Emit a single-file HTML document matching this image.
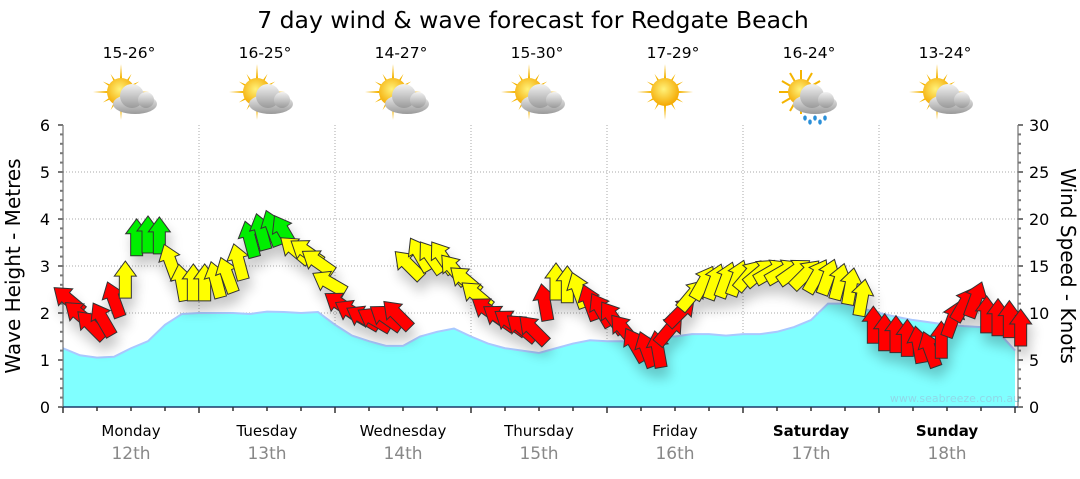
<!DOCTYPE html>
<html><head><meta charset="utf-8"><style>
body{margin:0;background:#fff;width:1080px;height:475px;overflow:hidden;font-family:"DejaVu Sans","Liberation Sans",sans-serif}
</style></head><body>
<svg id="c" width="1080" height="475" xmlns="http://www.w3.org/2000/svg" font-family="DejaVu Sans, Liberation Sans, sans-serif">
<defs>
<filter id="sh" x="-50%" y="-50%" width="200%" height="200%"><feGaussianBlur in="SourceAlpha" stdDeviation="6"/><feOffset dx="3" dy="10"/><feComponentTransfer><feFuncA type="linear" slope="0.22"/></feComponentTransfer><feMerge><feMergeNode/><feMergeNode in="SourceGraphic"/></feMerge></filter>
<radialGradient id="sunG" cx="45%" cy="40%" r="60%"><stop offset="0" stop-color="#fff27a"/><stop offset="1" stop-color="#f4a800"/></radialGradient>
<linearGradient id="cloudG" x1="0" y1="0" x2="0" y2="1"><stop offset="0" stop-color="#f2f2f2"/><stop offset="1" stop-color="#9a9a9a"/></linearGradient>
</defs>
<text x="533" y="28" text-anchor="middle" font-size="23.5" fill="#000">7 day wind &amp; wave forecast for Redgate Beach</text>
<g id="plot"></g>
</svg>
<script>
const days=["Monday","Tuesday","Wednesday","Thursday","Friday","Saturday","Sunday"];
const dates=["12th","13th","14th","15th","16th","17th","18th"];
const temps=["15-26°","16-25°","14-27°","15-30°","17-29°","16-24°","13-24°"];
const icons=["partly","partly","partly","partly","sun","rain","partly"];
const waveTicks=[0,1,2,3,4,5,6];
const windTicks=[0,5,10,15,20,25,30];
// wave height every 3 hours
const waveHeights=[1.25,1.1,1.05,1.07,1.25,1.4,1.75,1.98,2.0,2.0,2.0,1.98,2.03,2.02,2.0,2.02,1.75,1.52,1.4,1.3,1.3,1.5,1.6,1.67,1.5,1.35,1.25,1.2,1.15,1.25,1.35,1.42,1.4,1.4,1.45,1.5,1.5,1.55,1.55,1.52,1.55,1.55,1.6,1.7,1.85,2.2,2.2,2.1,2.0,1.92,1.85,1.8,1.75,1.72,1.7,1.6,1.2];
// wind speed (knots) every 2 hours
const windSpeeds=[11.4,9.8,8.7,9.3,11.4,13.5,18.0,18.3,18.2,15.4,13.2,13.2,
13.2,13.5,14.0,15.4,17.8,18.6,19.0,18.6,16.7,16.5,15.4,13.2,
10.9,10.1,9.5,9.3,9.5,9.8,15.1,16.2,15.9,15.9,14.6,13.5,
11.9,10.3,9.5,9.0,8.4,8.2,11.1,13.3,13.0,12.4,11.1,10.3,
9.5,8.2,6.6,6.1,6.1,8.2,10.1,11.9,13.2,13.3,13.5,13.7,
14.0,14.3,14.4,14.4,14.4,14.1,13.9,13.8,13.3,12.8,11.6,8.7,
7.9,7.7,7.3,6.6,6.1,7.1,9.3,10.9,11.4,9.8,9.5,9.3,8.4];
// wind direction the arrow points, degrees clockwise from up
const windDirs=[-50,-50,-45,-30,-20,0,0,0,0,-20,-10,0,
0,-15,-20,-15,-15,-15,-20,-30,-50,-55,-55,-60,
-55,-60,-60,-60,-55,-45,-45,-30,-35,-35,-40,-50,
-50,-55,-55,-55,-50,-45,-10,0,0,-20,-20,-30,
-35,-40,-30,-20,-10,40,45,40,30,20,20,20,
40,50,60,60,55,45,30,20,15,10,10,0,
0,0,0,-10,-20,0,20,30,20,0,0,0,0];

const NS="http://www.w3.org/2000/svg";
const P=document.getElementById('plot');
const X0=63,Y0=407,Y6=125,DW=136;
const yW=v=>Y0-(Y0-Y6)*v/6;
const yK=v=>Y0-(Y0-Y6)*v/30;
const xH=h=>X0+h*DW/24;
function el(t,a,p){const e=document.createElementNS(NS,t);for(const k in a)e.setAttribute(k,a[k]);(p||P).appendChild(e);return e;}

waveTicks.forEach(t=>{if(t>0&&t<6){const g=el('line',{x1:X0,x2:1018,y1:yW(t),y2:yW(t),stroke:'#aaa','stroke-dasharray':'1,2'});

}});
for(let d=1;d<7;d++){const g=el('line',{x1:xH(d*24),x2:xH(d*24),y1:Y6,y2:Y0,stroke:'#aaa','stroke-dasharray':'1,2'});

}

let pts=waveHeights.map((v,i)=>xH(i*3)+','+yW(v));
const area=el('polygon',{points:X0+','+Y0+' '+pts.join(' ')+' '+xH((waveHeights.length-1)*3)+','+Y0,fill:'#80ffff'});


const wl=el('polyline',{points:pts.join(' '),fill:'none',stroke:'#a9c8ff','stroke-width':2});


const wm=el('text',{x:955,y:402,'text-anchor':'middle','font-size':11,fill:'#8fd8e8'});wm.textContent='www.seabreeze.com.au';



const axL=el('line',{x1:X0,x2:X0,y1:Y6,y2:Y0,stroke:'#555'});


const axR=el('line',{x1:1018,x2:1018,y1:Y6,y2:Y0,stroke:'#555'});


const axB=el('line',{x1:X0,x2:1018,y1:Y0,y2:Y0,stroke:'#1a3a6a','stroke-width':1.5});


for(let i=0;i<=30;i++){const y=yW(i/5);el('line',{x1:X0-(i%5?3:5),x2:X0,y1:y,y2:y,stroke:'#777','stroke-width':2});}
for(let i=0;i<=30;i++){const y=yK(i);el('line',{x1:1018,x2:1018+(i%5?3:5),y1:y,y2:y,stroke:'#777','stroke-width':2});}
for(let h=0;h<=168;h+=6){const x=xH(h);el('line',{x1:x,x2:x,y1:Y0,y2:Y0+(h%24?4:6),stroke:'#333','stroke-width':1.5});}
waveTicks.forEach(t=>{const e=el('text',{x:50,y:yW(t)+6,'text-anchor':'end','font-size':16,fill:'#000'});e.textContent=t;

});
windTicks.forEach(t=>{const e=el('text',{x:1029,y:yK(t)+6,'font-size':16,fill:'#000'});e.textContent=t;

});
const lt=el('text',{transform:'translate(20,266) rotate(-90)','text-anchor':'middle','font-size':20,fill:'#000'});lt.textContent='Wave Height - Metres';


const rt=el('text',{transform:'translate(1061,266) rotate(90)','text-anchor':'middle','font-size':20,fill:'#000'});rt.textContent='Wind Speed - Knots';



function icon(g,type){
  if(type!=='rain'){
    const rays=el('g',{},g);
    for(let a=0;a<360;a+=30){const r=(a%90===0)?28:21;
      const ra=a*Math.PI/180;el('polygon',{points:`${Math.sin(ra-0.13)*10},${-Math.cos(ra-0.13)*10} ${Math.sin(ra)*r},${-Math.cos(ra)*r} ${Math.sin(ra+0.13)*10},${-Math.cos(ra+0.13)*10}`,fill:'#f4b400'},rays);}
    el('circle',{cx:0,cy:0,r:14,fill:'url(#sunG)'},g);
  } else {
    const rays=el('g',{},g);
    for(let a=0;a<360;a+=30){const ra=a*Math.PI/180;el('line',{x1:Math.sin(ra)*10,y1:-Math.cos(ra)*10,x2:Math.sin(ra)*22,y2:-Math.cos(ra)*22,stroke:'#f4b400','stroke-width':2},rays);}
    el('circle',{cx:0,cy:0,r:13,fill:'url(#sunG)'},g);
  }
  if(type!=='sun'){
    const cg=el('g',{transform:'translate(14,5)'},g);
    el('ellipse',{cx:0,cy:7,rx:22,ry:10,fill:'url(#cloudG)'},cg);
    el('circle',{cx:-3,cy:-1,r:12,fill:'url(#cloudG)'},cg);
    el('circle',{cx:11,cy:3,r:8,fill:'url(#cloudG)'},cg);
    if(type==='rain'){for(let k=0;k<5;k++)el('ellipse',{cx:-10+k*5,cy:21+(k%2)*4,rx:1.8,ry:2.6,fill:'#2a8fd8'},cg);}
  }
}
days.forEach((d,i)=>{
  const cx=xH(i*24+12);
  const bold=(i>=5)?'bold':'normal';
  const dn=el('text',{x:cx,y:436,'text-anchor':'middle','font-size':15,'font-weight':bold,fill:'#000'});dn.textContent=d;
  
  
  const dt=el('text',{x:cx,y:459,'text-anchor':'middle','font-size':17,fill:'#888'});dt.textContent=dates[i];
  
  
  const tt=el('text',{x:cx-2,y:58,'text-anchor':'middle','font-size':15.5,fill:'#000'});tt.textContent=temps[i];
  
  
  const g=el('g',{transform:`translate(${cx-10},92)`});
  
  
  icon(g,icons[i]);
});

const ag=el('g',{filter:'url(#sh)'});


windSpeeds.forEach((v,i)=>{
  const x=xH(1+i*2), y=yK(v);
  const col=v<11.5?'#ff0000':(v<17?'#ffff00':'#00ee00');
  const a=el('polygon',{points:'0,-19 11,-4 6,-4 6,18 -6,18 -6,-4 -11,-4',fill:col,stroke:'#333','stroke-width':1,transform:`translate(${x},${y}) rotate(${windDirs[i]})`},ag);
  
  
});
</script>
</body></html>
